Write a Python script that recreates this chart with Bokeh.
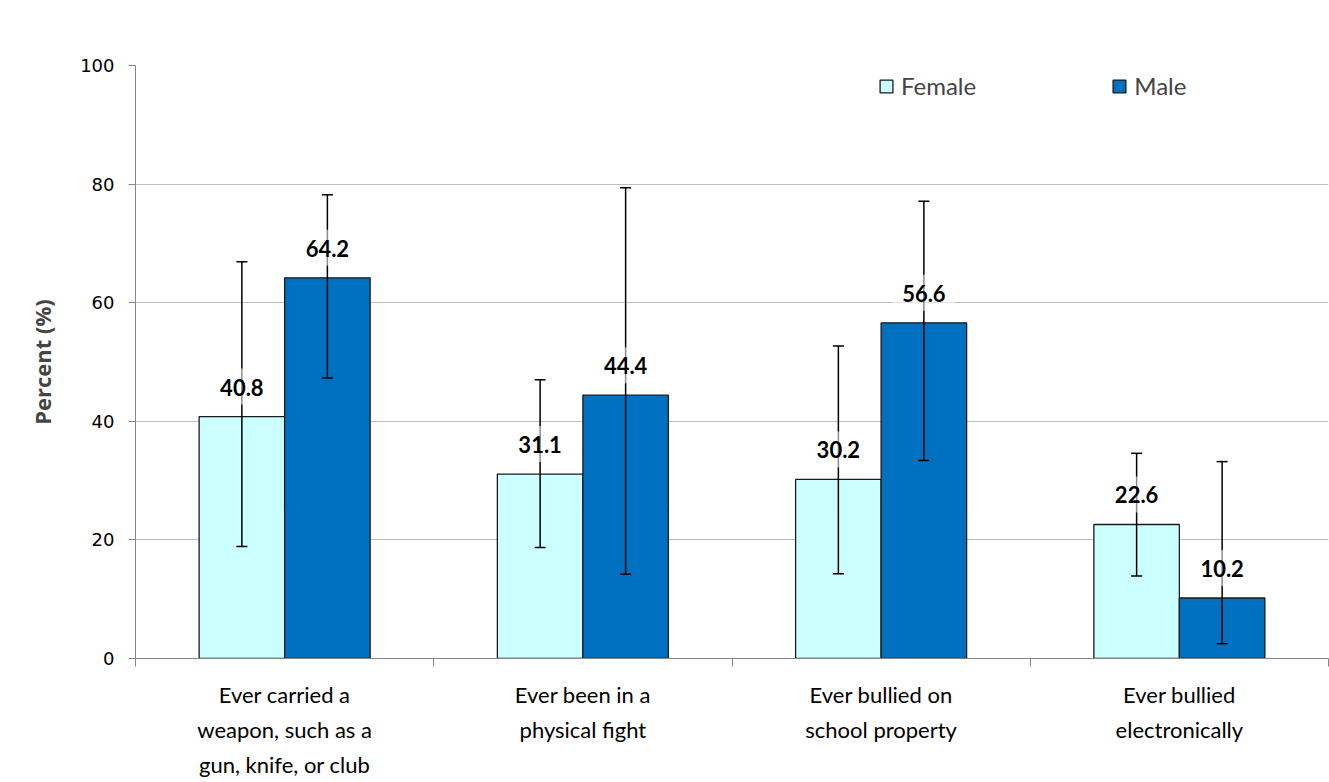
from bokeh.plotting import figure
from bokeh.models import (ColumnDataSource, Range1d, LinearAxis, FixedTicker, Legend, LegendItem, Grid)
from bokeh.transform import dodge
from bokeh.core.properties import value
from bokeh.embed import file_html
from bokeh.resources import INLINE

categories = ["Ever carried a\nweapon, such as a\ngun, knife, or club",
              "Ever been in a\nphysical fight",
              "Ever bullied on\nschool property",
              "Ever bullied\nelectronically"]
female = [40.8, 31.1, 30.2, 22.6]
female_lo = [18.9, 18.7, 14.3, 13.9]
female_hi = [66.9, 47.0, 52.7, 34.6]
male = [64.2, 44.4, 56.6, 10.2]
male_lo = [47.3, 14.2, 33.4, 2.5]
male_hi = [78.2, 79.4, 77.1, 33.2]
y_ticks = [0, 20, 40, 60, 80, 100]

n = len(categories)
centers = [i + 0.5 for i in range(n)]
src = ColumnDataSource(dict(
    pos=centers, female=female, female_lo=female_lo, female_hi=female_hi,
    male=male, male_lo=male_lo, male_hi=male_hi,
    female_txt=[f"{v:.1f}" for v in female], male_txt=[f"{v:.1f}" for v in male]))

W, H = 1329, 782
p = figure(width=W, height=H, output_backend="svg", toolbar_location=None,
           x_range=Range1d(0, n), y_range=Range1d(0, 100), x_axis_type=None, y_axis_type=None,
           min_border_left=135, min_border_right=1, min_border_top=65, min_border_bottom=124)
p.outline_line_color = None
p.background_fill_color = "white"

# y axis
yax = LinearAxis(ticker=FixedTicker(ticks=y_ticks))
yax.axis_line_color = "#868686"
yax.major_tick_line_color = "#868686"
yax.major_tick_out = 7
yax.major_tick_in = 0
yax.minor_tick_line_color = None
yax.major_label_text_font = "DejaVu Sans"
yax.major_label_text_font_size = "18px"
yax.major_label_text_color = "#000000"
yax.major_label_standoff = 14
yax.axis_label = "Percent (%)"
yax.axis_label_text_font = "Open Sans"
yax.axis_label_text_font_style = "bold"
yax.axis_label_text_font_size = "22px"
yax.axis_label_standoff = 20
p.add_layout(yax, "left")
p.add_layout(Grid(dimension=1, ticker=yax.ticker, grid_line_color="#BFBFBF", grid_line_width=1))

# separator ticks axis
sep_ticks = list(range(n + 1))
sep = LinearAxis(ticker=FixedTicker(ticks=sep_ticks),
                 major_label_overrides={t: "" for t in sep_ticks})
sep.axis_line_color = "#868686"
sep.major_tick_line_color = "#868686"
sep.major_tick_out = 8
sep.major_tick_in = 0
sep.minor_tick_line_color = None
sep.major_label_text_font_size = "1px"
sep.major_label_standoff = 0
p.add_layout(sep, "below")

# category labels axis
cax = LinearAxis(ticker=FixedTicker(ticks=centers),
                 major_label_overrides={c: lab for c, lab in zip(centers, categories)})
cax.axis_line_color = None
cax.major_tick_line_color = None
cax.minor_tick_line_color = None
cax.major_label_text_font = "Lato"
cax.major_label_text_font_size = "22px"
cax.major_label_text_color = "#000000"
cax.major_label_text_line_height = 1.3
cax.major_label_standoff = 8
p.add_layout(cax, "below")

bw = 0.2867
off = bw / 2
rf = p.vbar(x=dodge("pos", -off), top="female", width=bw, source=src,
            fill_color="#CCFFFF", line_color="#1a1a1a", line_width=1.3)
rm = p.vbar(x=dodge("pos", off), top="male", width=bw, source=src,
            fill_color="#0070C0", line_color="#1a1a1a", line_width=1.3)

for d, lo, hi in ((-off, "female_lo", "female_hi"), (off, "male_lo", "male_hi")):
    xs = dodge("pos", d)
    p.segment(x0=xs, x1=xs, y0=lo, y1=hi, source=src, line_color="black", line_width=1.5)
    p.scatter(x=xs, y=lo, marker="dash", size=11, source=src, line_color="black", line_width=1.5)
    p.scatter(x=xs, y=hi, marker="dash", size=11, source=src, line_color="black", line_width=1.5)

for d, col, txt in ((-off, "female", "female_txt"), (off, "male", "male_txt")):
    p.text(x=dodge("pos", d), y=col, text=txt, source=src,
           text_font=value("Lato"), text_font_style="bold", text_font_size="22px",
           text_color="black", text_align="center", text_baseline="bottom",
           y_offset=-12, background_fill_color="white", background_fill_alpha=0.55,
           padding=[9, 9, 10, 9])

legend = Legend(items=[LegendItem(label="Female", renderers=[rf]),
                       LegendItem(label="Male", renderers=[rm])],
                orientation="horizontal", location=(743, 558),
                border_line_color=None, background_fill_color="white", background_fill_alpha=1,
                padding=2, margin=0, spacing=135, label_standoff=7,
                glyph_width=16, glyph_height=16,
                label_text_font="Lato", label_text_font_size="24px")
p.add_layout(legend, "center")

open("out.html", "w").write(file_html(p, INLINE))
